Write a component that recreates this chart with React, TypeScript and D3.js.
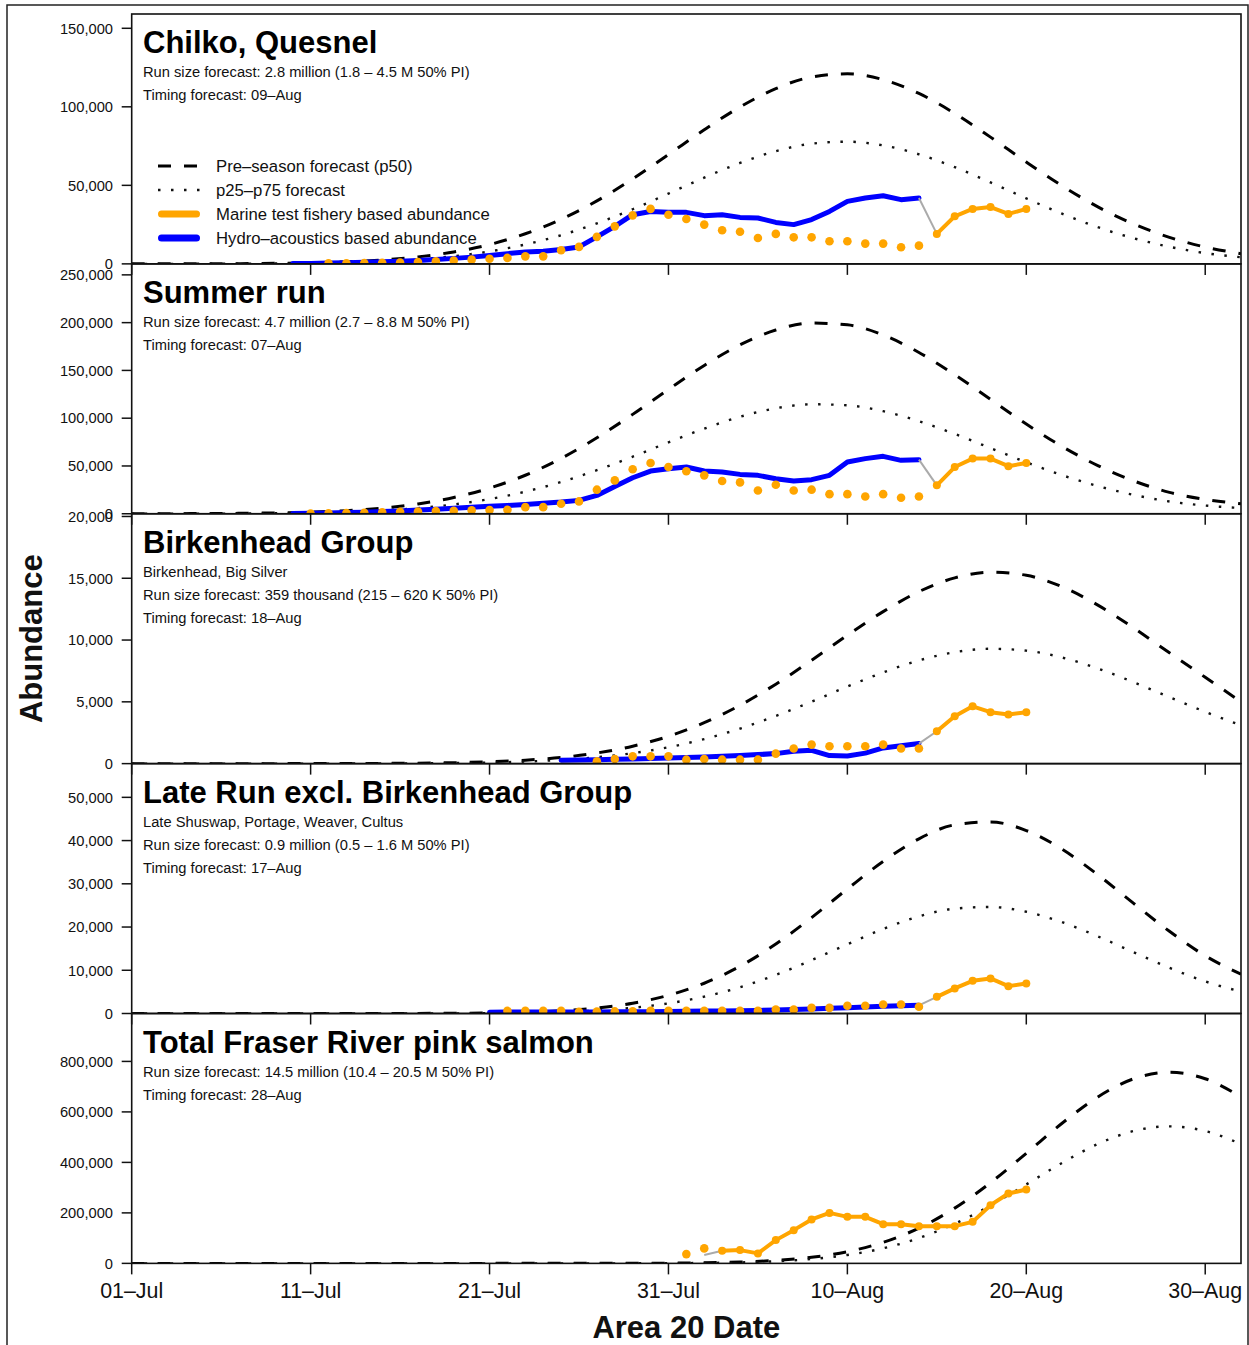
import React from "react";
import * as d3 from "d3";

// ---------- forecast curves (sampled every 2 days from 01-Jul = day 0) ----------
const forecastDays = [0, 2, 4, 6, 8, 10, 12, 14, 16, 18, 20, 22, 24, 26, 28, 30, 32, 34, 36, 38, 40, 42, 44, 46, 48, 50, 52, 54, 56, 58, 60, 62];

const chilkoP50 = [10, 30, 70, 150, 330, 680, 1330, 2490, 4460, 7590, 12300, 19200, 28400, 40100, 54100, 69600, 85400, 99900, 111600, 119000, 121000, 117300, 108500, 95800, 80700, 64800, 49700, 36300, 25400, 16900, 10700, 6500];
const chilkoP25 = [7, 18, 43, 98, 210, 435, 855, 1600, 2870, 4880, 7910, 12350, 18260, 25780, 34790, 44750, 54910, 64240, 71760, 76520, 77800, 75420, 69770, 61600, 51890, 41670, 31960, 23340, 16330, 10870, 6880, 4180];

const summerP50 = [35, 83, 190, 414, 870, 1720, 3270, 5930, 10300, 17000, 26800, 40300, 57900, 79500, 104000, 130100, 155200, 176800, 192300, 199600, 197700, 187000, 168800, 145500, 119700, 93900, 70400, 50400, 34400, 22400, 15000, 10500];
const summerP25 = [20, 48, 109, 238, 500, 990, 1880, 3400, 5910, 9760, 15380, 23130, 33230, 45630, 59700, 74680, 89080, 101480, 110380, 114570, 113480, 107340, 96890, 83520, 68710, 53900, 40410, 28930, 19750, 12860, 8600, 6000];

const birkP50 = [0, 0, 0, 0, 0, 3, 7, 17, 36, 75, 147, 278, 500, 860, 1410, 2210, 3310, 4720, 6430, 8360, 10390, 12300, 13920, 15030, 15490, 15240, 14310, 12830, 10980, 8970, 6990, 5000];
const birkP25 = [0, 0, 0, 0, 0, 2, 4, 10, 22, 45, 88, 167, 300, 516, 846, 1326, 1986, 2832, 3858, 5016, 6234, 7380, 8352, 9018, 9294, 9144, 8586, 7698, 6588, 5382, 4194, 3100];

const lateP50 = [0, 0, 0, 0, 0, 0, 0, 8, 22, 55, 132, 298, 634, 1270, 2380, 4210, 7000, 10920, 16060, 22180, 28810, 35180, 40410, 43640, 44310, 42320, 38000, 32080, 25470, 19010, 13350, 9100];
const lateP25 = [0, 0, 0, 0, 0, 0, 0, 4, 12, 31, 73, 166, 353, 706, 1323, 2341, 3892, 6072, 8930, 12330, 16020, 19560, 22470, 24260, 24640, 23530, 21130, 17840, 14160, 10570, 7420, 5060];

const pinkP50 = [0, 0, 0, 0, 0, 0, 0, 0, 0, 0, 0, 10, 35, 110, 324, 880, 2230, 5280, 11700, 24100, 46300, 83300, 139700, 218800, 319700, 436000, 555000, 659400, 731300, 757000, 731300, 659400];
const pinkP25 = [0, 0, 0, 0, 0, 0, 0, 0, 0, 0, 0, 7, 25, 79, 232, 631, 1600, 3790, 8390, 17280, 33200, 59700, 100200, 156900, 229200, 312600, 397900, 472800, 524300, 542800, 524300, 472800];

// ---------- observed abundance (daily) ----------
const chilkoHydroStart = 9;
const chilkoHydro = [200, 300, 500, 700, 1000, 1300, 1700, 2200, 2800, 3500, 4300, 5300, 6500, 7600, 8000, 9100, 10800, 17200, 23900, 31300, 33400, 32800, 32800, 30700, 31300, 29600, 29200, 26400, 25000, 28200, 33400, 39800, 41900, 43400, 40900, 41900];
const chilkoDotsStart = 11;
const chilkoDots = [300, 400, 500, 700, 900, 1200, 1600, 2100, 2700, 3300, 3800, 4800, 4800, 8700, 10800, 17200, 23900, 30900, 35000, 31300, 28600, 25000, 21400, 20500, 16500, 19100, 16900, 16900, 14400, 14400, 12900, 12900, 10600, 11600];
const chilkoLineStart = 45;
const chilkoLine = [19100, 30300, 35000, 36200, 31800, 35000];

const summerHydroStart = 9;
const summerHydro = [300, 500, 800, 1200, 1700, 2300, 3000, 3800, 4700, 5700, 6800, 7800, 8700, 9800, 11100, 12200, 14000, 19200, 28600, 37700, 44700, 47200, 48900, 44700, 43600, 41200, 40200, 36700, 34200, 35700, 40200, 54100, 57700, 60100, 55900, 56600];
const summerDotsStart = 10;
const summerDots = [300, 500, 800, 1100, 1500, 2000, 2400, 2800, 3200, 3600, 4000, 4200, 6900, 6900, 10500, 12900, 25200, 34900, 46500, 53100, 48900, 44400, 40200, 34200, 32800, 24400, 30400, 24400, 25200, 20500, 20500, 18100, 20500, 16800, 18100];
const summerLineStart = 45;
const summerLine = [29700, 48900, 57700, 57700, 49800, 53100];

const birkHydroStart = 24;
const birkHydro = [270, 290, 320, 350, 380, 420, 460, 500, 540, 600, 650, 730, 810, 1000, 1080, 650, 620, 850, 1270, 1450, 1620];
const birkDotsStart = 26;
const birkDots = [190, 380, 590, 590, 590, 320, 380, 320, 320, 320, 810, 1220, 1540, 1400, 1400, 1400, 1540, 1220, 1220];
const birkLineStart = 45;
const birkLine = [2620, 3830, 4640, 4160, 3970, 4160];

const lateHydroStart = 20;
const lateHydro = [300, 320, 330, 340, 350, 360, 370, 380, 390, 400, 450, 500, 550, 600, 650, 700, 800, 900, 1050, 1200, 1350, 1500, 1650, 1800, 1900];
const lateDotsStart = 21;
const lateDots = [600, 600, 600, 600, 370, 450, 480, 520, 600, 600, 600, 600, 600, 600, 600, 930, 930, 1300, 1300, 1780, 1780, 2090, 2090, 1550];
const lateLineStart = 45;
const lateLine = [3850, 5800, 7560, 8120, 6330, 6960];

const pinkHydroStart = 32;
const pinkHydro = [32800];
const pinkDotsStart = 31;
const pinkDots = [36800, 59300];
const pinkLineStart = 33;
const pinkLine = [49800, 52600, 39500, 92100, 131600, 173900, 200000, 184200, 184200, 155400, 155400, 147500, 147500, 147500, 164500, 230500, 276700, 292500];

// ---------- axes & text ----------
const xTickDays = [0, 10, 20, 30, 40, 50, 60];
const xTickLabels = ["01–Jul", "11–Jul", "21–Jul", "31–Jul", "10–Aug", "20–Aug", "30–Aug"];

const chilkoTicks = [0, 50000, 100000, 150000];
const summerTicks = [0, 50000, 100000, 150000, 200000, 250000];
const birkTicks = [0, 5000, 10000, 15000, 20000];
const lateTicks = [0, 10000, 20000, 30000, 40000, 50000];
const pinkTicks = [0, 200000, 400000, 600000, 800000];

const panelTitles = ["Chilko, Quesnel", "Summer run", "Birkenhead Group", "Late Run excl. Birkenhead Group", "Total Fraser River pink salmon"];
const chilkoNotes = ["Run size forecast: 2.8 million (1.8 – 4.5 M 50% PI)", "Timing forecast: 09–Aug"];
const summerNotes = ["Run size forecast: 4.7 million (2.7 – 8.8 M 50% PI)", "Timing forecast: 07–Aug"];
const birkNotes = ["Birkenhead, Big Silver", "Run size forecast: 359 thousand (215 – 620 K 50% PI)", "Timing forecast: 18–Aug"];
const lateNotes = ["Late Shuswap, Portage, Weaver, Cultus", "Run size forecast: 0.9 million (0.5 – 1.6 M 50% PI)", "Timing forecast: 17–Aug"];
const pinkNotes = ["Run size forecast: 14.5 million (10.4 – 20.5 M 50% PI)", "Timing forecast: 28–Aug"];

const legendLabels = ["Pre–season forecast (p50)", "p25–p75 forecast", "Marine test fishery based abundance", "Hydro–acoustics based abundance"];

type Panel = {
  title: string;
  notes: string[];
  yMax: number;
  ticks: number[];
  p50: number[];
  p25: number[];
  hydroStart: number;
  hydro: number[];
  dotsStart: number;
  dots: number[];
  lineStart: number;
  line: number[];
};

const panels: Panel[] = [
  { title: panelTitles[0], notes: chilkoNotes, yMax: 159100, ticks: chilkoTicks, p50: chilkoP50, p25: chilkoP25, hydroStart: chilkoHydroStart, hydro: chilkoHydro, dotsStart: chilkoDotsStart, dots: chilkoDots, lineStart: chilkoLineStart, line: chilkoLine },
  { title: panelTitles[1], notes: summerNotes, yMax: 261500, ticks: summerTicks, p50: summerP50, p25: summerP25, hydroStart: summerHydroStart, hydro: summerHydro, dotsStart: summerDotsStart, dots: summerDots, lineStart: summerLineStart, line: summerLine },
  { title: panelTitles[2], notes: birkNotes, yMax: 20220, ticks: birkTicks, p50: birkP50, p25: birkP25, hydroStart: birkHydroStart, hydro: birkHydro, dotsStart: birkDotsStart, dots: birkDots, lineStart: birkLineStart, line: birkLine },
  { title: panelTitles[3], notes: lateNotes, yMax: 57800, ticks: lateTicks, p50: lateP50, p25: lateP25, hydroStart: lateHydroStart, hydro: lateHydro, dotsStart: lateDotsStart, dots: lateDots, lineStart: lateLineStart, line: lateLine },
  { title: panelTitles[4], notes: pinkNotes, yMax: 989800, ticks: pinkTicks, p50: pinkP50, p25: pinkP25, hydroStart: pinkHydroStart, hydro: pinkHydro, dotsStart: pinkDotsStart, dots: pinkDots, lineStart: pinkLineStart, line: pinkLine },
];

// ---------- layout ----------
const W = 1249;
const H = 1345;
const plotL = 131.7;
const plotR = 1241;
const plotTop = 14;
const panelH = 249.875;
const FONT = "'Liberation Sans', Arial, Helvetica, sans-serif";
const ORANGE = "#FFA500";
const BLUE = "#0000FF";
const DASH = "13,13";
const DOT = "2.5,10.5";

type Pt = [number, number];

export default function App() {
  const x = d3.scaleLinear().domain([0, 62]).range([plotL, plotR]);
  const fmt = d3.format(",");

  return (
    <svg width={W} height={H} style={{ position: "absolute", left: 0, top: 0, display: "block", background: "#fff" }} fontFamily={FONT}>
      <rect x={0} y={0} width={W} height={H} fill="#fff" />
      {/* outer frame */}
      <rect x={7} y={5} width={1241} height={1360} fill="none" stroke="#222" strokeWidth={1.5} />

      {panels.map((p, i) => {
        const top = plotTop + i * panelH;
        const bottom = top + panelH;
        const y = d3.scaleLinear().domain([0, p.yMax]).range([bottom, top]);
        const smooth = d3.line<Pt>().x((d) => x(d[0])).y((d) => y(d[1])).curve(d3.curveMonotoneX);
        const straight = d3.line<Pt>().x((d) => x(d[0])).y((d) => y(d[1]));
        const p50Pts: Pt[] = forecastDays.map((d, k) => [d, p.p50[k]]);
        const p25Pts: Pt[] = forecastDays.map((d, k) => [d, p.p25[k]]);
        const hydroPts: Pt[] = p.hydro.map((v, k) => [p.hydroStart + k, v]);
        const dotPts: Pt[] = p.dots.map((v, k) => [p.dotsStart + k, v]);
        const linePts: Pt[] = p.line.map((v, k) => [p.lineStart + k, v]);
        const greyPts: Pt[] = [hydroPts[hydroPts.length - 1], linePts[0]];
        const clipId = `clip${i}`;
        return (
          <g key={i}>
            <defs>
              <clipPath id={clipId}>
                <rect x={plotL} y={top} width={plotR - plotL} height={panelH} />
              </clipPath>
            </defs>
            <g clipPath={`url(#${clipId})`}>
              <path d={smooth(p50Pts) || ""} fill="none" stroke="#000" strokeWidth={3} strokeDasharray={DASH} />
              <path d={smooth(p25Pts) || ""} fill="none" stroke="#111" strokeWidth={2.4} strokeDasharray={DOT} />
              {hydroPts.length > 1 && (
                <path d={straight(hydroPts) || ""} fill="none" stroke={BLUE} strokeWidth={5} strokeLinejoin="round" strokeLinecap="round" />
              )}
              <path d={straight(greyPts) || ""} fill="none" stroke="#aaaaaa" strokeWidth={2} />
              <path d={straight(linePts) || ""} fill="none" stroke={ORANGE} strokeWidth={4} strokeLinejoin="round" strokeLinecap="round" />
              {dotPts.map((d, k) => (
                <circle key={`d${k}`} cx={x(d[0])} cy={y(d[1])} r={4.3} fill={ORANGE} />
              ))}
              {linePts.map((d, k) => (
                <circle key={`l${k}`} cx={x(d[0])} cy={y(d[1])} r={4} fill={ORANGE} />
              ))}
            </g>
            {/* plot frame */}
            <rect x={plotL} y={top} width={plotR - plotL} height={panelH} fill="none" stroke="#111" strokeWidth={1.6} />
            {/* y axis ticks */}
            {p.ticks.map((t) => (
              <g key={`yt${t}`}>
                <line x1={plotL - 10} x2={plotL} y1={y(t)} y2={y(t)} stroke="#111" strokeWidth={1.5} />
                <text x={113} y={y(t)} dy="0.36em" textAnchor="end" fontSize={14.7} fill="#111">
                  {fmt(t)}
                </text>
              </g>
            ))}
            {/* x axis ticks (pointing down) */}
            {xTickDays.map((d) => (
              <line key={`xt${d}`} x1={x(d)} x2={x(d)} y1={bottom} y2={bottom + 11} stroke="#111" strokeWidth={1.5} />
            ))}
            {/* titles */}
            <text x={143} y={top + 39} fontSize={31} fontWeight="bold" fill="#000">
              {p.title}
            </text>
            {p.notes.map((n, k) => (
              <text key={`n${k}`} x={143} y={top + 63 + k * 23} fontSize={14.7} fill="#111">
                {n}
              </text>
            ))}
          </g>
        );
      })}

      {/* legend in first panel */}
      <g>
        <line x1={158} x2={200} y1={166} y2={166} stroke="#000" strokeWidth={3} strokeDasharray={DASH} />
        <line x1={158} x2={200} y1={190} y2={190} stroke="#111" strokeWidth={2.4} strokeDasharray={DOT} />
        <line x1={161.5} x2={196.5} y1={214} y2={214} stroke={ORANGE} strokeWidth={7} strokeLinecap="round" />
        <line x1={161.5} x2={196.5} y1={238} y2={238} stroke={BLUE} strokeWidth={7} strokeLinecap="round" />
        {legendLabels.map((l, k) => (
          <text key={l} x={216} y={166 + k * 24} dy="0.36em" fontSize={16.7} fill="#111">
            {l}
          </text>
        ))}
      </g>

      {/* x tick labels */}
      {xTickDays.map((d, k) => (
        <text key={`xl${d}`} x={x(d)} y={1298} textAnchor="middle" fontSize={21.4} fill="#111">
          {xTickLabels[k]}
        </text>
      ))}

      {/* axis titles */}
      <text x={(plotL + plotR) / 2} y={1338} textAnchor="middle" fontSize={31} fontWeight="bold" fill="#111">
        Area 20 Date
      </text>
      <text transform={`translate(42, ${plotTop + (5 * panelH) / 2}) rotate(-90)`} textAnchor="middle" fontSize={31} fontWeight="bold" fill="#111">
        Abundance
      </text>
    </svg>
  );
}
